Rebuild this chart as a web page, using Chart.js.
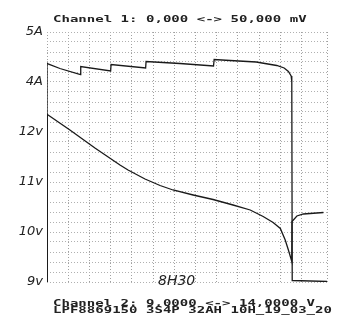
<!DOCTYPE html>
<html lang="en">
<head>
    <meta charset="UTF-8">
    <title>Battery discharge recording</title>
    <script src="https://cdn.jsdelivr.net/npm/chart.js"></script>
    <style>
        body { margin: 0; background: #fff; }
        canvas { display: block; }
    </style>
</head>
<body>
    <canvas id="recChart" width="342" height="326"></canvas>

    <script>
        // x is in chart divisions (one dotted vertical line per division)
        const voltX = [0, 0, 0.03, 1.08, 2.26, 3.44, 3.82, 4.62, 5.33, 5.94, 6.89, 7.83, 8.77, 9.58, 10.19, 10.66, 11.0, 11.23, 11.38, 11.5, 11.54, 11.55, 11.78, 12.09, 13.03];
        const voltY = [9.0, 12.35, 12.35, 12.04, 11.68, 11.34, 11.24, 11.06, 10.93, 10.84, 10.74, 10.65, 10.54, 10.44, 10.31, 10.19, 10.07, 9.84, 9.64, 9.47, 9.41, 10.21, 10.32, 10.36, 10.39];

        const ampX = [0, 0, 0.61, 1.58, 1.59, 3.0, 3.02, 4.65, 4.67, 6.27, 7.85, 7.88, 8.63, 9.86, 10.83, 11.18, 11.38, 11.51, 11.54, 11.56, 13.2];
        const ampY = [0, 4.37, 4.27, 4.15, 4.31, 4.22, 4.35, 4.28, 4.41, 4.37, 4.32, 4.45, 4.43, 4.40, 4.33, 4.28, 4.21, 4.12, 4.01, 0.03, 0.01];

        // handwritten marks on the left edge (volt axis values)
        const tickValues = [14, 13, 12, 11, 10, 9];
        const tickLabels = ['5A', '4A', '12v', '11v', '10v', '9v'];

        const headerText = 'Channel 1: 0,000 <-> 50,000 mV';
        const footerText = ['Channel 2: 9,0000 <-> 14,0000 V', 'LPF8869150 3S4P 32AH 10H_19_03_20'];
        const noteText = '8H30';

        function toPoints(xs, ys) {
            return xs.map((x, i) => ({ x: x, y: ys[i] }));
        }

        // printer style text plus the handwritten note
        const textPlugin = {
            id: 'recorderText',
            afterDraw(chart) {
                const c = chart.ctx;
                c.save();
                c.fillStyle = '#222';
                c.textBaseline = 'alphabetic';
                const drawMono = (txt, x, y) => {
                    c.save();
                    c.translate(x, y);
                    c.scale(1.56, 0.9);
                    c.font = 'bold 9px "DejaVu Sans Mono"';
                    c.fillText(txt, 0, 0);
                    c.restore();
                };
                drawMono(headerText, 53, 22);
                drawMono(footerText[0], 53, 306);
                drawMono(footerText[1], 53, 313);

                c.font = 'italic 14px "DejaVu Sans"';
                c.fillStyle = '#222';
                c.fillText(noteText, 158, 285);
                c.restore();
            }
        };

        const lineStyle = {
            borderColor: '#1a1a1a',
            borderWidth: 1.3,
            pointRadius: 0,
            tension: 0,
            fill: false
        };

        new Chart(document.getElementById('recChart'), {
            type: 'line',
            data: {
                datasets: [
                    Object.assign({ label: 'Voltage', data: toPoints(voltX, voltY), yAxisID: 'y' }, lineStyle),
                    Object.assign({ label: 'Current', data: toPoints(ampX, ampY), yAxisID: 'y1' }, lineStyle)
                ]
            },
            options: {
                responsive: false,
                animation: false,
                layout: { padding: { top: 32, right: 15, bottom: 44, left: 0 } },
                plugins: {
                    legend: { display: false },
                    tooltip: { enabled: false }
                },
                scales: {
                    x: {
                        type: 'linear',
                        min: 0,
                        max: 13.2,
                        border: { display: false, dash: [1, 2] },
                        ticks: { display: false, stepSize: 1 },
                        grid: { color: '#a0a0a0', drawTicks: false, lineWidth: 1 },
                        afterFit: (s) => { s.height = 0; }
                    },
                    y: {
                        min: 9,
                        max: 14,
                        border: { display: false, dash: [1, 2] },
                        grid: { color: '#b0b0b0', drawTicks: false, lineWidth: 1 },
                        ticks: {
                            stepSize: 0.2,
                            autoSkip: false,
                            padding: 4,
                            color: '#222',
                            font: { family: 'DejaVu Sans', style: 'italic', size: 13 },
                            callback: (v) => {
                                const i = tickValues.findIndex(t => Math.abs(t - v) < 1e-6);
                                return i >= 0 ? tickLabels[i] : '';
                            }
                        },
                        afterFit: (s) => { s.width = 47; }
                    },
                    y1: {
                        display: false,
                        min: 0,
                        max: 5
                    }
                }
            },
            plugins: [textPlugin]
        });
    </script>
</body>
</html>
